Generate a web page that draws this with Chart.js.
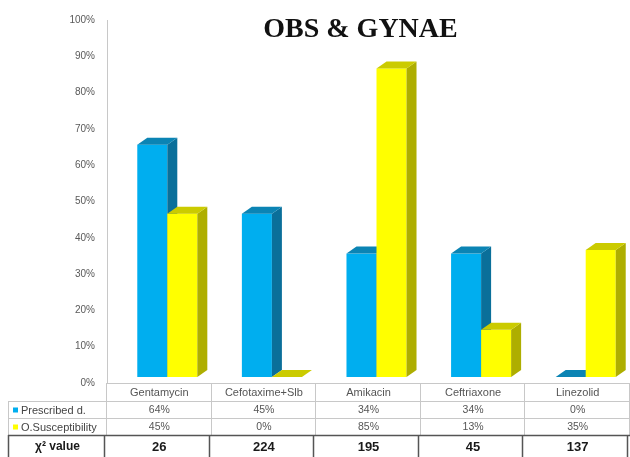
<!DOCTYPE html>
<html>
<head>
<meta charset="utf-8">
<script src="https://cdn.jsdelivr.net/npm/chart.js@4.4.1/dist/chart.umd.min.js"></script>
<style>
  body { margin: 0; background: #fff; }
  #wrap { width: 630px; height: 457px; position: relative; }
</style>
</head>
<body>
<div id="wrap"><canvas id="obsChart"></canvas></div>
<script>
const categories = ["Gentamycin", "Cefotaxime+Slb", "Amikacin", "Ceftriaxone", "Linezolid"];
const prescribed = [64, 45, 34, 34, 0];
const susceptibility = [45, 0, 85, 13, 35];
const chiSquare = [26, 224, 195, 45, 137];
const seriesNames = ["Prescribed d.", "O.Susceptibility"];

// face colours for the 3d boxes
const boxColors = [
  { front: "#00aeef", side: "#0a6f9a", top: "#0b84b4" },
  { front: "#ffff00", side: "#aeae00", top: "#cbcb00" }
];

const DX = 10, DY = 7;          // depth of the boxes
const SHIFT_X = 8, SHIFT_Y = -6; // front face sits a bit off the category centre

function drawBox(ctx, l, r, t, b, c) {
  ctx.fillStyle = c.front;
  ctx.fillRect(l, t, r - l, b - t);

  ctx.fillStyle = c.side;
  ctx.beginPath();
  ctx.moveTo(r, t);
  ctx.lineTo(r + DX, t - DY);
  ctx.lineTo(r + DX, b - DY);
  ctx.lineTo(r, b);
  ctx.closePath();
  ctx.fill();

  ctx.fillStyle = c.top;
  ctx.beginPath();
  ctx.moveTo(l, t);
  ctx.lineTo(l + DX, t - DY);
  ctx.lineTo(r + DX, t - DY);
  ctx.lineTo(r, t);
  ctx.closePath();
  ctx.fill();
}

const boxes3d = {
  id: "boxes3d",
  beforeDatasetDraw() {
    return false; // flat bars are replaced by the boxes below
  },
  afterDatasetsDraw(chart) {
    const ctx = chart.ctx;
    ctx.save();
    chart.data.datasets.forEach((ds, di) => {
      const meta = chart.getDatasetMeta(di);
      meta.data.forEach(bar => {
        const p = bar.getProps(["x", "y", "base", "width"], true);
        const l = p.x - p.width / 2 + SHIFT_X;
        const r = p.x + p.width / 2 + SHIFT_X;
        drawBox(ctx, l, r, p.y + SHIFT_Y, p.base + SHIFT_Y, boxColors[di]);
      });
    });
    ctx.restore();
  }
};

const titleAndTable = {
  id: "titleAndTable",
  afterDraw(chart) {
    const ctx = chart.ctx;
    const area = chart.chartArea;
    const xs = chart.scales.x;
    const colW = (area.right - area.left) / categories.length;
    const legL = 8;
    const rows = [area.bottom, 401, 418, 435, 457];

    ctx.save();

    // title
    ctx.fillStyle = "#111";
    ctx.font = "bold 28px 'Liberation Serif'";
    ctx.textAlign = "center";
    ctx.textBaseline = "alphabetic";
    ctx.fillText("OBS & GYNAE", (area.left + area.right) / 2 - 8, 37);

    // grid of the data table
    ctx.strokeStyle = "#c8c8c8";
    ctx.lineWidth = 1;
    ctx.beginPath();
    ctx.moveTo(area.left, rows[0] + 0.5);
    ctx.lineTo(area.right, rows[0] + 0.5);
    for (let k = 1; k <= 2; k++) {
      ctx.moveTo(legL, rows[k] + 0.5);
      ctx.lineTo(area.right, rows[k] + 0.5);
    }
    for (let i = 0; i <= categories.length; i++) {
      const x = Math.round(area.left + i * colW) - 0.5;
      ctx.moveTo(x, rows[0]);
      ctx.lineTo(x, rows[3]);
    }
    ctx.moveTo(legL + 0.5, rows[1]);
    ctx.lineTo(legL + 0.5, rows[3]);
    ctx.stroke();

    // chi-square row has heavier borders
    ctx.strokeStyle = "#555";
    ctx.lineWidth = 1.5;
    ctx.beginPath();
    ctx.moveTo(legL, rows[3] + 0.5);
    ctx.lineTo(area.right, rows[3] + 0.5);
    for (let i = 0; i <= categories.length; i++) {
      const x = Math.round(area.left + i * colW) - 2.5;
      ctx.moveTo(x, rows[3]);
      ctx.lineTo(x, rows[4]);
    }
    ctx.moveTo(legL + 0.5, rows[3]);
    ctx.lineTo(legL + 0.5, rows[4]);
    ctx.stroke();

    const mid = k => (rows[k] + rows[k + 1]) / 2 + 1;

    // category names and percentages
    ctx.textAlign = "center";
    ctx.textBaseline = "middle";
    ctx.fillStyle = "#555";
    categories.forEach((c, i) => {
      const x = xs.getPixelForValue(i);
      ctx.font = "11px 'Liberation Sans'";
      ctx.fillText(c, x, mid(0));
      ctx.font = "10.5px 'Liberation Sans'";
      ctx.fillText(prescribed[i] + "%", x, mid(1));
      ctx.fillText(susceptibility[i] + "%", x, mid(2));
    });

    // chi-square values
    ctx.font = "bold 13px 'Liberation Sans'";
    ctx.fillStyle = "#1a1a1a";
    chiSquare.forEach((v, i) => {
      ctx.fillText(String(v), xs.getPixelForValue(i), mid(3));
    });
    ctx.font = "bold 12px 'Liberation Sans'";
    ctx.fillText("\u03C7\u00B2 value", (legL + area.left) / 2, mid(3));

    // series keys
    ctx.textAlign = "left";
    ctx.font = "11px 'Liberation Sans'";
    seriesNames.forEach((name, k) => {
      const y = mid(k + 1);
      ctx.fillStyle = boxColors[k].front;
      ctx.fillRect(13, y - 3, 5, 5);
      ctx.fillStyle = "#444";
      ctx.fillText(name, 21, y);
    });

    ctx.restore();
  }
};

new Chart(document.getElementById("obsChart"), {
  type: "bar",
  data: {
    labels: categories,
    datasets: [
      { label: seriesNames[0], data: prescribed, backgroundColor: boxColors[0].front },
      { label: seriesNames[1], data: susceptibility, backgroundColor: boxColors[1].front }
    ]
  },
  options: {
    responsive: true,
    maintainAspectRatio: false,
    animation: false,
    layout: { padding: { top: 20, bottom: 74, left: 0, right: 0 } },
    datasets: { bar: { categoryPercentage: 0.574, barPercentage: 1 } },
    plugins: {
      legend: { display: false },
      tooltip: { enabled: false }
    },
    scales: {
      x: { display: false },
      y: {
        min: 0,
        max: 100,
        afterFit(scale) { scale.width = 107; },
        grid: { display: false, drawTicks: false },
        border: { display: true, color: "#c8c8c8" },
        ticks: {
          stepSize: 10,
          padding: 12,
          color: "#595959",
          font: { family: "Liberation Sans", size: 10 },
          callback: v => v + "%"
        }
      }
    }
  },
  plugins: [boxes3d, titleAndTable]
});
</script>
</body>
</html>
